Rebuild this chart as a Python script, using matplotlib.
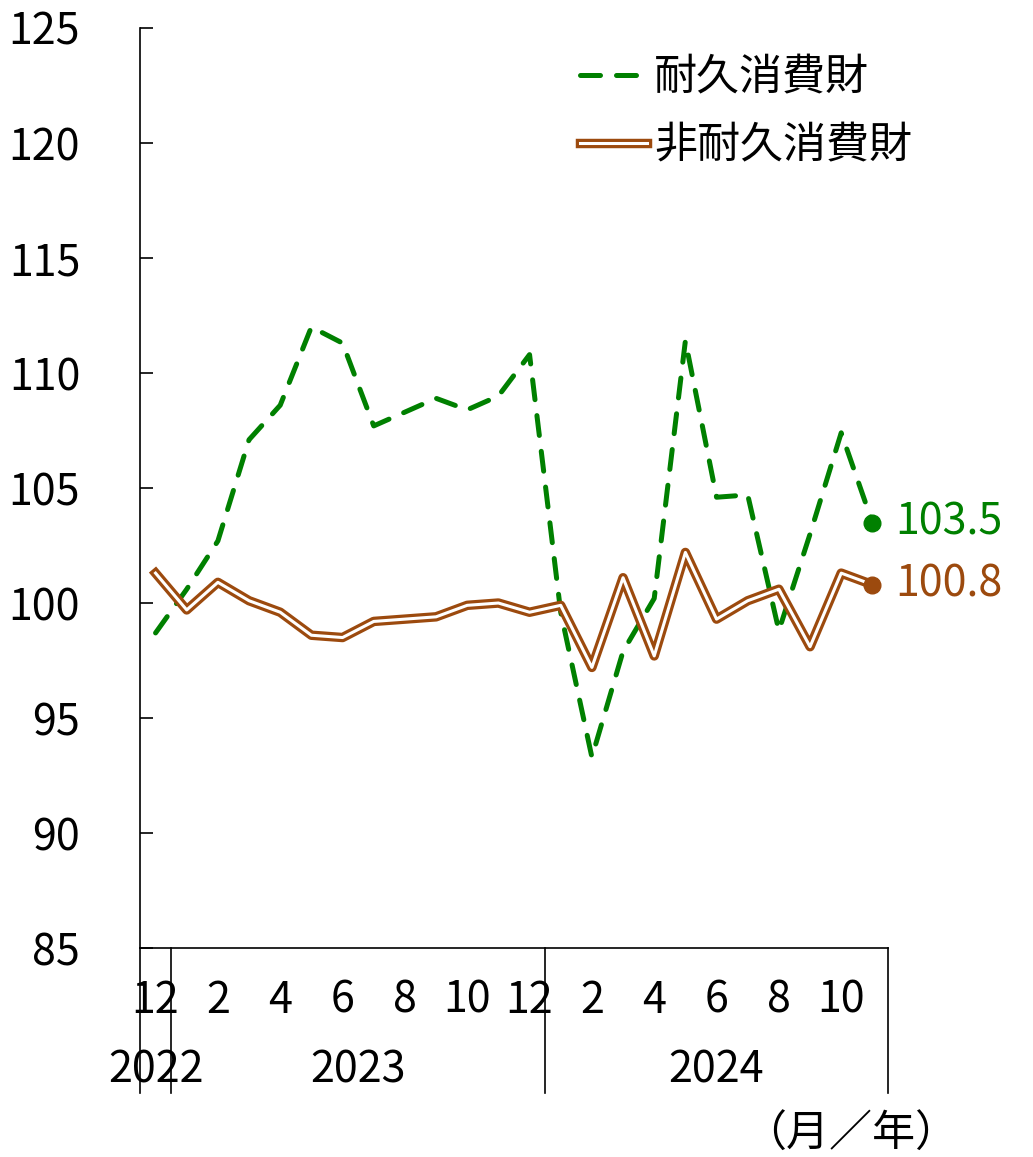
import numpy as np
import matplotlib
matplotlib.use("Agg")
import matplotlib.pyplot as plt
import matplotlib.patheffects as pe

plt.rcParams['font.family'] = ['Noto Sans CJK JP', 'DejaVu Sans']

# monthly index, 2022-12 .. 2024-11
months = [12, 1, 2, 3, 4, 5, 6, 7, 8, 9, 10, 11,
          12, 1, 2, 3, 4, 5, 6, 7, 8, 9, 10, 11]
durable = [98.7, 100.6, 102.7, 107.1, 108.6, 112.0, 111.3, 107.7, 108.3, 108.9, 108.4, 109.0,
           110.8, 99.6, 93.3, 97.9, 100.2, 111.4, 104.6, 104.7, 98.8, 103.0, 107.4, 103.5]
nondurable = [101.3, 99.7, 100.9, 100.1, 99.6, 98.6, 98.5, 99.2, 99.3, 99.4, 99.9, 100.0,
              99.6, 99.9, 97.2, 101.1, 97.7, 102.2, 99.3, 100.1, 100.6, 98.1, 101.3, 100.8]
years = ["2022", "2023", "2024"]
year_spans = [(-0.5, 0.5), (0.5, 12.5), (12.5, 23.5)]

green = "#008000"
brown = "#9c4a0e"
fs = 31

fig = plt.figure(figsize=(10.33, 11.57), dpi=100)
ax = fig.add_axes([0.1355, 0.1806, 0.7241, 0.7952])

x = np.arange(len(months))
ax.plot(x, durable, color=green, lw=3.6, dashes=(4.0, 3.2),
        dash_capstyle="round", label="耐久消費財", zorder=3)
ax.plot(x, nondurable, color="white", lw=2.2, label="非耐久消費財", zorder=4,
        path_effects=[pe.Stroke(linewidth=6.8, foreground=brown), pe.Normal()])
ax.plot(x[-1], durable[-1], "o", color=green, ms=12, zorder=5)
ax.plot(x[-1], nondurable[-1], "o", color=brown, ms=12, zorder=5)
ax.text(x[-1] + 0.72, durable[-1], f"{durable[-1]:.1f}", color=green, fontsize=fs,
        va="center", ha="left", clip_on=False)
ax.text(x[-1] + 0.72, nondurable[-1], f"{nondurable[-1]:.1f}", color=brown, fontsize=fs,
        va="center", ha="left", clip_on=False)

ax.set_xlim(-0.5, 23.5)
ax.set_ylim(85, 125)
ax.set_yticks(np.arange(85, 126, 5))
ax.tick_params(axis="y", direction="in", length=9, width=1.2, labelsize=fs, pad=43)
xt = x[::2]
ax.set_xticks(xt, [str(months[i]) for i in xt])
ax.tick_params(axis="x", length=0, labelsize=fs, pad=22)
for s in ["top", "right"]:
    ax.spines[s].set_visible(False)
for s in ["left", "bottom"]:
    ax.spines[s].set_linewidth(1.2)

# year separators and labels below the axis
tr = ax.get_xaxis_transform()
for xs in [-0.5, 0.5, 12.5, 23.5]:
    ax.plot([xs, xs], [0, -0.1576], color="black", lw=1.2, transform=tr, clip_on=False)
for yr, (a, b) in zip(years, year_spans):
    xc = 0 if yr == "2022" else (a + b) / 2
    ax.text(xc, -0.1326, yr, transform=tr, ha="center", va="center", fontsize=fs)

fig.text(0.823, 0.019, "（月／年）", ha="center", va="center", fontsize=fs)

ax.legend(loc="upper left", bbox_to_anchor=(0.588, 0.969), frameon=False,
          fontsize=fs, handlelength=1.55, handletextpad=0.18, labelspacing=0.55,
          borderpad=0, borderaxespad=0)

fig.savefig("out.png", dpi=100)
